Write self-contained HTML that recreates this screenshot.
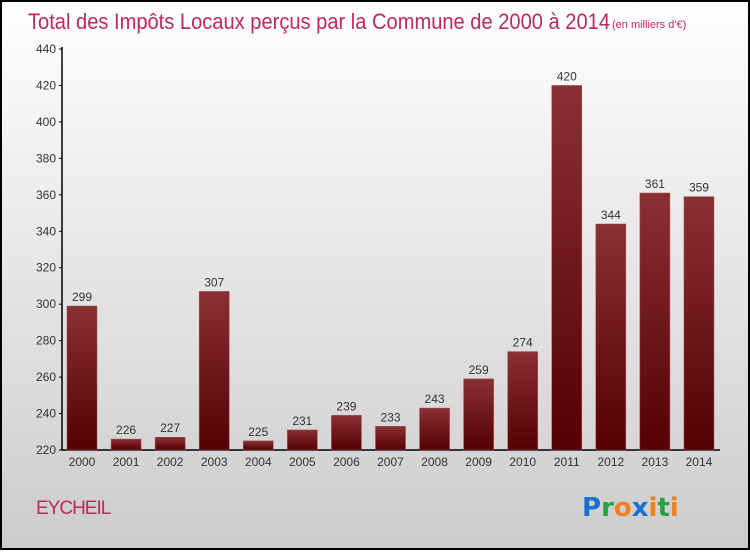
<!DOCTYPE html>
<html><head><meta charset="utf-8"><style>
body{margin:0;width:750px;height:550px;overflow:hidden;font-family:"Liberation Sans",sans-serif}
</style></head><body>
<svg width="750" height="550" xmlns="http://www.w3.org/2000/svg">
<defs>
<linearGradient id="bg" x1="0" y1="0" x2="0" y2="1"><stop offset="0" stop-color="#ffffff"/><stop offset="1" stop-color="#cccccc"/></linearGradient>
<linearGradient id="bar" x1="0" y1="0" x2="0" y2="1"><stop offset="0" stop-color="#8a3033"/><stop offset="1" stop-color="#540003"/></linearGradient>
</defs>
<rect x="1" y="1" width="748" height="548" fill="url(#bg)" stroke="#000" stroke-width="2"/>
<text x="28" y="29" font-size="22" fill="#c0285a" textLength="582" lengthAdjust="spacingAndGlyphs">Total des Impôts Locaux perçus par la Commune de 2000 à 2014</text>
<text x="612" y="28" font-size="11" fill="#c0285a">(en milliers d'€)</text>
<g id="axes"></g>
<g id="bars"></g>
<text x="36" y="514" font-size="19" fill="#c0285a" letter-spacing="-1">EYCHEIL</text>
<g font-family="'DejaVu Sans',sans-serif" font-size="26" font-weight="bold">
<text x="582" y="516"><tspan fill="#1a6fd0">P</tspan><tspan fill="#2aa040">r</tspan><tspan fill="#f08020">o</tspan><tspan fill="#1a6fd0">x</tspan><tspan fill="#f08020">i</tspan><tspan fill="#2aa040">t</tspan><tspan fill="#f08020">i</tspan></text>
</g>
</svg>
<script>
const years=["2000","2001","2002","2003","2004","2005","2006","2007","2008","2009","2010","2011","2012","2013","2014"];
const values=[299,226,227,307,225,231,239,233,243,259,274,420,344,361,359];
const yTicks=[220,240,260,280,300,320,340,360,380,400,420,440];
const NS="http://www.w3.org/2000/svg";
const y0=450,y1=49,vmin=220,vmax=440;
const ys=v=>y0-(v-vmin)/(vmax-vmin)*(y0-y1);
const xc=i=>82+i*44.07;
function mk(t,a,p,txt){const e=document.createElementNS(NS,t);for(const k in a)e.setAttribute(k,a[k]);if(txt!==undefined)e.textContent=txt;p.appendChild(e);return e;}
const ax=document.getElementById('axes'),bg=document.getElementById('bars');
let l=mk('line',{x1:62,y1:y1-2,x2:62,y2:y0,stroke:'#000','stroke-width':1.5},ax);


l=mk('line',{x1:61,y1:y0,x2:720,y2:y0,stroke:'#000','stroke-width':1.5},ax);


yTicks.forEach(v=>{
 const y=ys(v);
 mk('line',{x1:59,y1:y,x2:62,y2:y,stroke:'#000'},ax);
 const t=mk('text',{x:56,y:y+4,'text-anchor':'end','font-size':12,fill:'#333'},ax,String(v));
 
 
});
values.forEach((v,i)=>{
 const x=xc(i),y=ys(v);
 const r=mk('rect',{x:x-15,y:y,width:30,height:y0-y,fill:'url(#bar)',stroke:'#9a5055','stroke-width':0.5},bg);
 
 
 const t=mk('text',{x:x,y:y-5,'text-anchor':'middle','font-size':12,fill:'#333'},bg,String(v));
 
 
 const k=mk('text',{x:x,y:466,'text-anchor':'middle','font-size':12,fill:'#333'},bg,years[i]);
 
 
});
</script>
</body></html>
